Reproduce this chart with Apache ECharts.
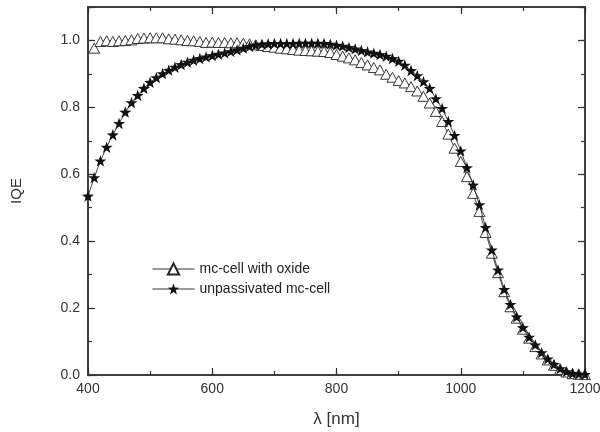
<!DOCTYPE html>
<html>
<head>
<meta charset="utf-8">
<script src="https://cdn.jsdelivr.net/npm/echarts@6/dist/echarts.min.js"></script>
<style>html,body{margin:0;padding:0;background:#fff}#c{width:600px;height:432px}</style>
</head>
<body>
<div id="c"></div>
<script>
// Wavelengths (nm)
var wlUnpass = [400,410,420,430,440,450,460,470,480,490,500,510,520,530,540,550,560,570,580,590,600,610,620,630,640,650,660,670,680,690,700,710,720,730,740,750,760,770,780,790,800,810,820,830,840,850,860,870,880,890,900,910,920,930,940,950,960,970,980,990,1000,1010,1020,1030,1040,1050,1060,1070,1080,1090,1100,1110,1120,1130,1140,1150,1160,1170,1180,1190,1200];
var wlOxide = [410,420,430,440,450,460,470,480,490,500,510,520,530,540,550,560,570,580,590,600,610,620,630,640,650,660,670,680,690,700,710,720,730,740,750,760,770,780,790,800,810,820,830,840,850,860,870,880,890,900,910,920,930,940,950,960,970,980,990,1000,1010,1020,1030,1040,1050,1060,1070,1080,1090,1100,1110,1120,1130,1140,1150,1160,1170,1180,1190,1200];
// IQE values
var iqeOxide = [0.977,0.997,0.999,0.997,0.999,1.000,1.002,1.006,1.007,1.008,1.008,1.008,1.005,1.004,1.002,1.000,0.999,0.997,0.994,0.995,0.994,0.994,0.993,0.993,0.992,0.990,0.987,0.985,0.982,0.980,0.977,0.975,0.973,0.971,0.970,0.969,0.968,0.967,0.964,0.958,0.953,0.948,0.942,0.934,0.927,0.919,0.912,0.899,0.890,0.880,0.873,0.862,0.849,0.833,0.813,0.788,0.758,0.720,0.678,0.638,0.593,0.543,0.489,0.426,0.364,0.306,0.249,0.204,0.170,0.137,0.110,0.085,0.063,0.045,0.029,0.017,0.009,0.004,0.002,0.001];
var iqeUnpass = [0.535,0.590,0.640,0.681,0.718,0.752,0.786,0.814,0.836,0.857,0.875,0.889,0.901,0.911,0.920,0.928,0.935,0.941,0.946,0.951,0.955,0.959,0.963,0.967,0.972,0.977,0.982,0.986,0.989,0.990,0.991,0.991,0.991,0.991,0.992,0.992,0.992,0.992,0.991,0.989,0.986,0.983,0.979,0.975,0.970,0.966,0.962,0.958,0.953,0.946,0.938,0.926,0.910,0.895,0.877,0.857,0.826,0.797,0.758,0.716,0.670,0.620,0.568,0.509,0.441,0.374,0.314,0.256,0.211,0.174,0.142,0.113,0.090,0.067,0.048,0.032,0.019,0.010,0.005,0.003,0.002];
var seriesNames = ['mc-cell with oxide', 'unpassivated mc-cell'];
var xTickLabels = ['400','600','800','1000','1200'];
var yTickLabels = ['0.0','0.2','0.4','0.6','0.8','1.0'];

function pairs(xs, ys){ var out=[]; for(var i=0;i<ys.length;i++) out.push([xs[i], ys[i]]); return out; }

var FONT = '"Liberation Sans", Arial, sans-serif';
var AXC = '#333';
var starPath = 'path://M0,-10L2.35,-3.24L9.51,-3.09L3.8,1.24L5.88,8.09L0,4L-5.88,8.09L-3.8,1.24L-9.51,-3.09L-2.35,-3.24Z';

function xAx(pos, interval, len, labels, extra){
  var a = {
    type:'value', position:pos, min:400, max:1200, interval:interval,
    axisLine:{show:true, onZero:false, lineStyle:{color:AXC, width:1.5}},
    axisTick:{show:true, inside:true, length:len, lineStyle:{color:AXC, width:1.2}},
    axisLabel:{show:labels, color:'#333', fontFamily:FONT, fontSize:14, margin:7,
      formatter:function(v){ var s=String(v); return xTickLabels.indexOf(s)>=0 ? s : ''; }},
    splitLine:{show:false}
  };
  return Object.assign(a, extra||{});
}
function yAx(pos, interval, len, labels, extra){
  var a = {
    type:'value', position:pos, min:0, max:1.1, interval:interval,
    axisLine:{show:true, onZero:false, lineStyle:{color:AXC, width:1.5}},
    axisTick:{show:true, inside:true, length:len, lineStyle:{color:AXC, width:1.2}},
    axisLabel:{show:labels, color:'#333', fontFamily:FONT, fontSize:14, margin:8,
      formatter:function(v){ var s=v.toFixed(1); return yTickLabels.indexOf(s)>=0 ? s : ''; }},
    splitLine:{show:false}
  };
  return Object.assign(a, extra||{});
}

var chart = echarts.init(document.getElementById('c'), null, {renderer:'canvas'});
chart.setOption({
  animation:false,
  backgroundColor:'#fff',
  grid:{left:88, right:15, top:7, bottom:57, containLabel:false, outerBoundsMode:'none'},
  legend:{
    orient:'vertical', left:147, top:257, itemWidth:42, itemHeight:14, itemGap:6,
    data:seriesNames,
    lineStyle:{width:1, color:'#333'},
    textStyle:{fontFamily:FONT, fontSize:14, color:'#222'}
  },
  xAxis:[
    xAx('bottom', 200, 7, true, {name:'\u03bb [nm]', nameLocation:'middle', nameGap:36,
      nameTextStyle:{fontFamily:FONT, fontSize:17, color:'#333'}}),
    xAx('bottom', 100, 4, false),
    xAx('top', 200, 7, false),
    xAx('top', 100, 4, false)
  ],
  yAxis:[
    yAx('left', 0.2, 7, true, {name:'IQE', nameLocation:'middle', nameGap:64,
      nameTextStyle:{fontFamily:FONT, fontSize:15, color:'#333'}}),
    yAx('left', 0.1, 4, false),
    yAx('right', 0.2, 7, false),
    yAx('right', 0.1, 4, false)
  ],
  series:[
    {
      name:seriesNames[0], type:'line', xAxisIndex:0, yAxisIndex:0,
      data:pairs(wlOxide, iqeOxide),
      symbol:'triangle', symbolSize:[11,10], showAllSymbol:true,
      lineStyle:{color:'#333', width:0.9},
      itemStyle:{color:'#fff', borderColor:'#222', borderWidth:0.9},
      z:2
    },
    {
      name:seriesNames[1], type:'line', xAxisIndex:0, yAxisIndex:0,
      data:pairs(wlUnpass, iqeUnpass),
      symbol:starPath, symbolSize:12, symbolKeepAspect:true, showAllSymbol:true,
      lineStyle:{color:'#333', width:0.9},
      itemStyle:{color:'#111', borderColor:'#111', borderWidth:0},
      z:3
    }
  ]
});
</script>
</body>
</html>
